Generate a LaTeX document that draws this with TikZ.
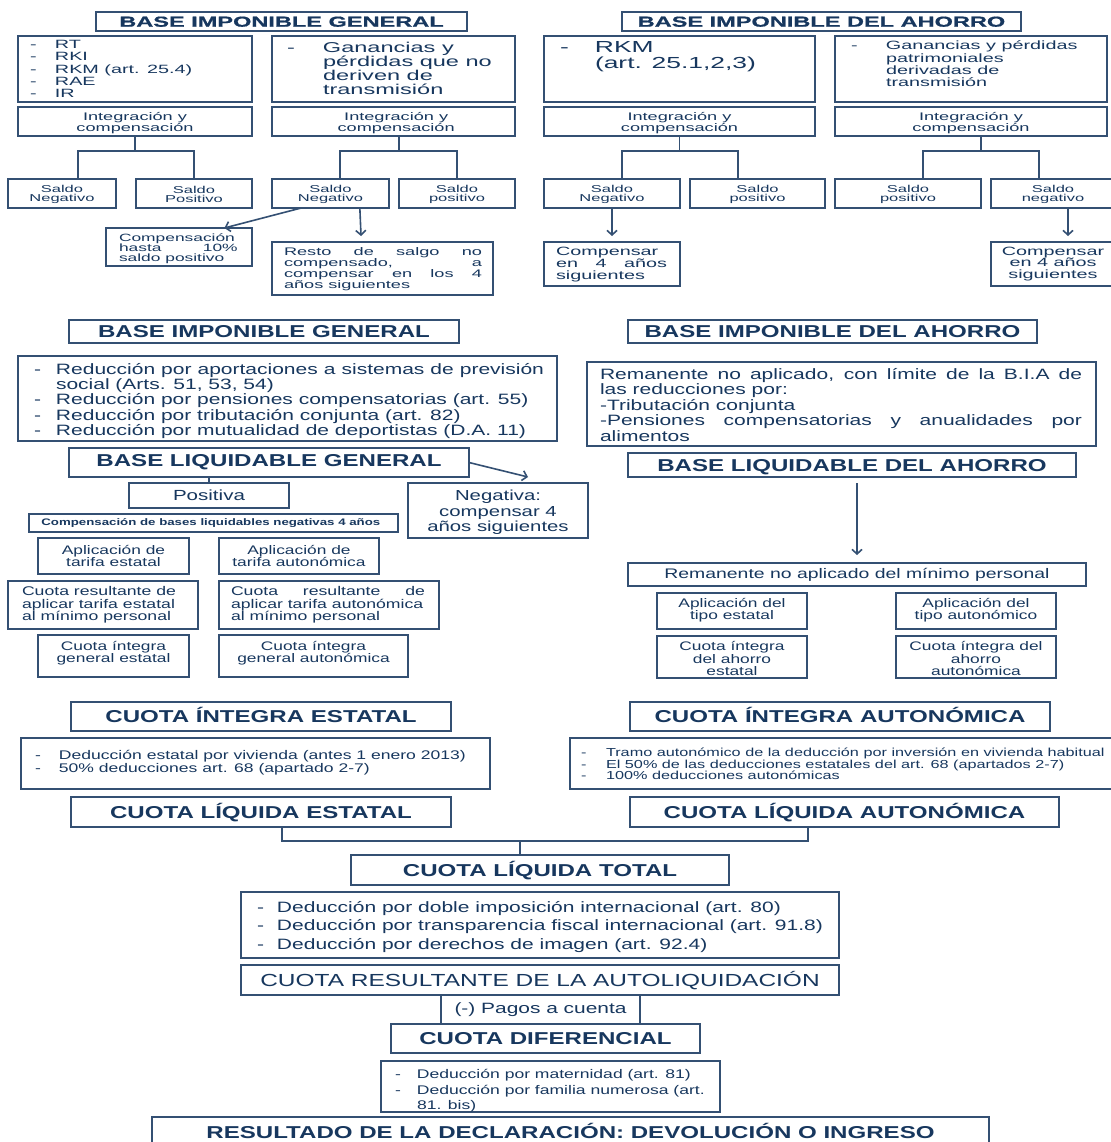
\documentclass[tikz,border=0pt]{standalone}
\usepackage{fontspec}
\setmainfont{Liberation Sans}
\newfontfamily\ta[FakeStretch=1.65]{Liberation Sans}
\newfontfamily\tah[FakeStretch=1.62,FakeBold=0.8]{Liberation Sans Bold}
\newfontfamily\tb[FakeStretch=1.4]{Liberation Sans}
\usetikzlibrary{arrows.meta}
\definecolor{tx}{RGB}{23,55,94}
\definecolor{ln}{RGB}{52,80,115}
\newcommand\bx[5]{\node[bx,anchor=north west,minimum width={(#4-#2)*0.75pt},minimum height={(#5-#3)*0.75pt}] (#1) at (#2,#3) {};}
\newcommand\fz[2]{\fontsize{#1}{#2}\selectfont}
\newcommand\dsh[1]{\makebox[#1][l]{-}}
\begin{document}
\begin{tikzpicture}[x=0.75pt,y=-0.75pt,
 bx/.style={draw=ln,line width=1.2pt,inner sep=0pt,outer sep=0pt},
 con/.style={draw=ln,line width=1.2pt},
 arr/.style={con,-{Straight Barb[length=3.4pt,width=7.5pt]}},
 t/.style={text=tx,inner sep=0pt,outer sep=0pt},
 hdA/.style={t,font=\tah\fz{10.9}{12},text height=7.8pt,text depth=0pt},
 hdB/.style={t,font=\tb\bfseries\fz{12.9}{14},text height=9.3pt,text depth=0pt},
 smA/.style={t,align=center,font=\ta\fz{8.25}{7.6}},
 sdA/.style={t,align=center,font=\ta\fz{7.5}{6.9}},
 apB/.style={t,align=center,font=\tb\fz{9.3}{9}},
]
\useasboundingbox (0,0) rectangle (1110,1142);
\fill[white] (0,0) rectangle (1110,1142);
% ---------------- TOP LEFT
\bx{hA}{96}{12}{467}{31}
\node[hdA] (hAt) at (hA.center) {BASE IMPONIBLE GENERAL};
\bx{rt}{18}{36}{252}{102}
\node[t,anchor=west,align=left,font=\ta\fz{9}{9.15}] (rtt) at (30,69) {\dsh{18.75pt}RT\\\dsh{18.75pt}RKI\\\dsh{18.75pt}RKM (art. 25.4)\\\dsh{18.75pt}RAE\\\dsh{18.75pt}IR};
\bx{gan}{272}{36}{515}{102}
\node[t,anchor=west,align=left,font=\ta\fz{10.7}{10.5}] (gant) at (287,68) {\dsh{27pt}Ganancias y\\\hspace*{27pt}pérdidas que no\\\hspace*{27pt}deriven de\\\hspace*{27pt}transmisión};
\bx{intA}{18}{107}{252}{136}
\node[smA] (intAt) at ([yshift=-1.2pt]intA.center) {Integración y\\compensación};
\bx{intB}{272}{107}{515}{136}
\node[smA] (intBt) at ([xshift=2pt,yshift=-1.2pt]intB.center) {Integración y\\compensación};
\bx{sAn}{8}{179}{116}{208}
\bx{sAp}{136}{179}{252}{208}
\bx{sBn}{272}{179}{389}{208}
\bx{sBp}{399}{179}{515}{208}
\node[sdA] (sAnt) at ([yshift=-0.6pt]sAn.center) {Saldo\\Negativo};
\node[sdA] (sApt) at ([yshift=-0.6pt]sAp.center) {Saldo\\Positivo};
\node[sdA] (sBnt) at ([yshift=-0.6pt]sBn.center) {Saldo\\Negativo};
\node[sdA] (sBpt) at ([yshift=-0.6pt]sBp.center) {Saldo\\positivo};
\draw[con] (intA.south) -- ++(0,15) -| ([xshift=12pt]sAn.north);
\draw[con] (intA.south) ++(0,15) -| (sAp.north);
\draw[con] ([xshift=4pt]intB.south) -- ++(0,15) -| ([xshift=7.1pt]sBn.north);
\draw[con] ([xshift=4pt]intB.south) ++(0,15) -| (sBp.north);
\bx{cmp}{106}{228}{252}{266}
\node[t,anchor=west,align=left,font=\ta\fz{7.9}{7.5}] (cmpt) at (119,248.5) {Compensación\\\makebox[89pt][s]{hasta 10\%}\\saldo positivo};
\bx{rst}{272}{242}{493}{295}
\node[t,anchor=west,align=left,font=\ta\fz{8.25}{8.25}] (rstt) at (284,269) {\makebox[148.5pt][s]{Resto de salgo no}\\\makebox[148.5pt][s]{compensado, a}\\\makebox[148.5pt][s]{compensar en los 4}\\años siguientes};
\draw[arr] ([xshift=-22pt]sBn.south) -- ([xshift=34pt]cmp.north);
\draw[arr] ([xshift=22pt]sBn.south) -- ([xshift=-16.1pt,yshift=4.5pt]rst.north);
% ---------------- TOP RIGHT
\bx{hB}{622}{12}{1021}{31}
\node[hdA] (hBt) at (hB.center) {BASE IMPONIBLE DEL AHORRO};
\bx{rkm}{544}{36}{815}{102}
\node[t,anchor=west,align=left,font=\ta\fz{12}{12}] (rkmt) at (560,56.5) {\dsh{26.25pt}RKM\\\hspace*{26.25pt}(art. 25.1,2,3)};
\bx{gpp}{835}{36}{1107}{102}
\node[t,anchor=west,align=left,font=\ta\fz{9}{9.2}] (gppt) at (851,64) {\dsh{26.25pt}Ganancias y pérdidas\\\hspace*{26.25pt}patrimoniales\\\hspace*{26.25pt}derivadas de\\\hspace*{26.25pt}transmisión};
\bx{intC}{544}{107}{815}{136}
\node[smA] (intCt) at ([yshift=-1.2pt]intC.center) {Integración y\\compensación};
\bx{intD}{835}{107}{1107}{136}
\node[smA] (intDt) at ([yshift=-1.2pt]intD.center) {Integración y\\compensación};
\bx{sCn}{544}{179}{680}{208}
\bx{sCp}{690}{179}{825}{208}
\bx{sDp}{835}{179}{981}{208}
\bx{sDn}{991}{179}{1115}{208}
\node[sdA] (sCnt) at ([yshift=-0.6pt]sCn.center) {Saldo\\Negativo};
\node[sdA] (sCpt) at ([yshift=-0.6pt]sCp.center) {Saldo\\positivo};
\node[sdA] (sDpt) at ([yshift=-0.6pt]sDp.center) {Saldo\\positivo};
\node[sdA] (sDnt) at ([yshift=-0.6pt]sDn.center) {Saldo\\negativo};
\draw[con] (intC.south) -- ++(0,15) -| ([xshift=7.5pt]sCn.north);
\draw[con] (intC.south) ++(0,15) -| ([xshift=-14.6pt]sCp.north);
\draw[con] ([xshift=7.5pt]intD.south) -- ++(0,15) -| ([xshift=11.25pt]sDp.north);
\draw[con] ([xshift=7.5pt]intD.south) ++(0,15) -| ([xshift=-10.5pt]sDn.north);
\bx{cpC}{544}{242}{680}{286}
\node[t,anchor=west,align=left,font=\ta\fz{9}{9}] (cpCt) at (556,264.5) {Compensar\\\makebox[83.25pt][s]{en 4 años}\\siguientes};
\bx{cpD}{991}{242}{1115}{286}
\node[t,align=center,font=\ta\fz{9}{8.6}] (cpDt) at (1053,264) {Compensar\\en 4 años\\siguientes};
\draw[arr] (sCn.south) -- ([yshift=4.5pt]cpC.north);
\draw[arr] ([xshift=11.25pt]sDn.south) -- ([xshift=11.25pt,yshift=4.5pt]cpD.north);
% ---------------- MIDDLE LEFT
\bx{hC}{69}{320}{459}{343}
\node[hdB] (hCt) at (hC.center) {BASE IMPONIBLE GENERAL};
\bx{red}{18}{356}{557}{441}
\node[t,anchor=west,align=left,font=\tb\fz{11.25}{11.5}] (redt) at (34,401) {\dsh{16.5pt}\makebox[366pt][s]{Reducción por aportaciones a sistemas de previsión}\\\hspace*{16.5pt}social (Arts. 51, 53, 54)\\\dsh{16.5pt}Reducción por pensiones compensatorias (art. 55)\\\dsh{16.5pt}Reducción por tributación conjunta (art. 82)\\\dsh{16.5pt}Reducción por mutualidad de deportistas (D.A. 11)};
\bx{blg}{69}{448}{469}{477}
\node[hdB] (blgt) at ([yshift=1.9pt]blg.center) {BASE LIQUIDABLE GENERAL};
\bx{neg}{408}{483}{588}{538}
\node[t,align=center,font=\tb\fz{10.9}{11.6}] (negt) at ([yshift=-1.5pt]neg.center) {Negativa:\\compensar 4\\años siguientes};
\draw[arr] (blg.east) -- ([xshift=22.5pt,yshift=4.5pt]neg.north);
\bx{pos}{129}{483}{289}{508}
\node[t,font=\tb\fz{11}{12}] (post) at (pos.center) {Positiva};
\draw[con] (pos.north) -- (pos.north |- blg.south);
\bx{cbl}{29}{514}{398}{532}
\node[t,font=\tb\bfseries\fz{7.1}{8}] (cblt) at ([xshift=-2pt]cbl.center) {Compensación de bases liquidables negativas 4 años};
\bx{ate}{38}{538}{189}{574}
\node[apB] (atet) at ([yshift=0pt]ate.center) {Aplicación de\\tarifa estatal};
\bx{ata}{219}{538}{379}{574}
\node[apB] (atat) at ([yshift=0pt]ata.center) {Aplicación de\\tarifa autonómica};
\bx{cre}{8}{581}{198}{629}
\node[t,anchor=west,align=left,font=\tb\fz{9.45}{9.4}] (cret) at (22,605) {Cuota resultante de\\aplicar tarifa estatal\\al mínimo personal};
\bx{cra}{219}{581}{439}{629}
\node[t,anchor=west,align=left,font=\tb\fz{9.45}{9.4}] (crat) at (231,605) {\makebox[145.5pt][s]{Cuota resultante de}\\aplicar tarifa autonómica\\al mínimo personal};
\bx{cie}{38}{635}{189}{677}
\node[apB] (ciet) at ([yshift=2.3pt]cie.center) {Cuota íntegra\\general estatal};
\bx{cia}{219}{635}{408}{677}
\node[apB] (ciat) at ([yshift=2.3pt]cia.center) {Cuota íntegra\\general autonómica};
% ---------------- MIDDLE RIGHT
\bx{hD}{628}{320}{1037}{343}
\node[hdB] (hDt) at (hD.center) {BASE IMPONIBLE DEL AHORRO};
\bx{rem}{587}{362}{1096}{446}
\node[t,anchor=west,align=left,font=\tb\fz{11.25}{11.6}] (remt) at (600,405) {\makebox[361.5pt][s]{Remanente no aplicado, con límite de la B.I.A de}\\las reducciones por:\\-Tributación conjunta\\\makebox[361.5pt][s]{-Pensiones compensatorias y anualidades por}\\alimentos};
\bx{bla}{628}{453}{1076}{477}
\node[hdB] (blat) at (bla.center) {BASE LIQUIDABLE DEL AHORRO};
\bx{remP}{628}{563}{1086}{586}
\node[t,font=\tb\fz{10.4}{12}] (remPt) at (remP.center) {Remanente no aplicado del mínimo personal};
\draw[arr] ([yshift=-4.5pt]bla.south -| remP.north) -- ([yshift=6pt]remP.north);
\bx{ats}{657}{593}{807}{629}
\node[apB] (atst) at ([yshift=0.3pt]ats.center) {Aplicación del\\tipo estatal};
\bx{atu}{896}{593}{1056}{629}
\node[apB] (atut) at ([yshift=0.3pt]atu.center) {Aplicación del\\tipo autonómico};
\bx{cas}{657}{636}{807}{678}
\node[t,align=center,font=\tb\fz{9.3}{9.4}] (cast) at ([yshift=-1.2pt]cas.center) {Cuota íntegra\\del ahorro\\estatal};
\bx{cau}{896}{636}{1056}{678}
\node[t,align=center,font=\tb\fz{9.3}{9.4}] (caut) at ([yshift=-1.2pt]cau.center) {Cuota íntegra del\\ahorro\\autonómica};
% ---------------- LOWER
\bx{cie2}{71}{702}{451}{731}
\node[hdB] (cie2t) at (cie2.center) {CUOTA ÍNTEGRA ESTATAL};
\bx{cia2}{630}{702}{1050}{731}
\node[hdB] (cia2t) at (cia2.center) {CUOTA ÍNTEGRA AUTONÓMICA};
\bx{dde}{21}{738}{490}{789}
\node[t,anchor=west,align=left,font=\tb\fz{9.4}{9.75}] (ddet) at (35,763) {\dsh{18pt}Deducción estatal por vivienda (antes 1 enero 2013)\\\dsh{18pt}50\% deducciones art. 68 (apartado 2-7)};
\bx{dda}{570}{738}{1115}{789}
\node[t,anchor=west,align=left,font=\tb\fz{8.7}{8.6}] (ddat) at (581,764) {\dsh{18.75pt}Tramo autonómico de la deducción por inversión en vivienda habitual\\\dsh{18.75pt}El 50\% de las deducciones estatales del art. 68 (apartados 2-7)\\\dsh{18.75pt}100\% deducciones autonómicas};
\bx{cle}{71}{797}{451}{827}
\node[hdB] (clet) at (cle.center) {CUOTA LÍQUIDA ESTATAL};
\bx{cla}{630}{797}{1059}{827}
\node[hdB] (clat) at (cla.center) {CUOTA LÍQUIDA AUTONÓMICA};
\bx{clt}{351}{855}{729}{885}
\node[hdB] (cltt) at (clt.center) {CUOTA LÍQUIDA TOTAL};
\draw[con] ([xshift=15.75pt]cle.south) -- ++(0,14) -| ([xshift=-27.4pt]cla.south);
\draw[con] ([xshift=-15pt]clt.north) -- ++(0,-14);
\bx{ddt}{241}{892}{839}{958}
\node[t,anchor=west,align=left,font=\tb\fz{11.25}{13.9}] (ddtt) at (257,927) {\dsh{15pt}Deducción por doble imposición internacional (art. 80)\\\dsh{15pt}Deducción por transparencia fiscal internacional (art. 91.8)\\\dsh{15pt}Deducción por derechos de imagen (art. 92.4)};
\bx{crl}{241}{965}{839}{995}
\node[t,font=\tb\fz{13.1}{14},text height=9.4pt,text depth=0pt] (crlt) at (crl.center) {CUOTA RESULTANTE DE LA AUTOLIQUIDACIÓN};
\bx{pag}{441}{995}{640}{1024}
\node[t,font=\tb\fz{11.2}{12}] (pagt) at (pag.center) {(-) Pagos a cuenta};
\bx{cdf}{391}{1024}{700}{1053}
\node[hdB] (cdft) at (cdf.center) {CUOTA DIFERENCIAL};
\bx{dmf}{381}{1061}{720}{1112}
\node[t,anchor=west,align=left,font=\tb\fz{9.4}{11.6}] (dmft) at (395,1091) {\dsh{16.5pt}Deducción por maternidad (art. 81)\\\dsh{16.5pt}Deducción por familia numerosa (art.\\\hspace*{16.5pt}81. bis)};
\bx{res}{152}{1117}{989}{1170}
\node[t,font=\tb\bfseries\fz{12.9}{14},anchor=base] (rest) at ([yshift=-15.75pt]res.north) {RESULTADO DE LA DECLARACIÓN: DEVOLUCIÓN O INGRESO};
\end{tikzpicture}
\end{document}
